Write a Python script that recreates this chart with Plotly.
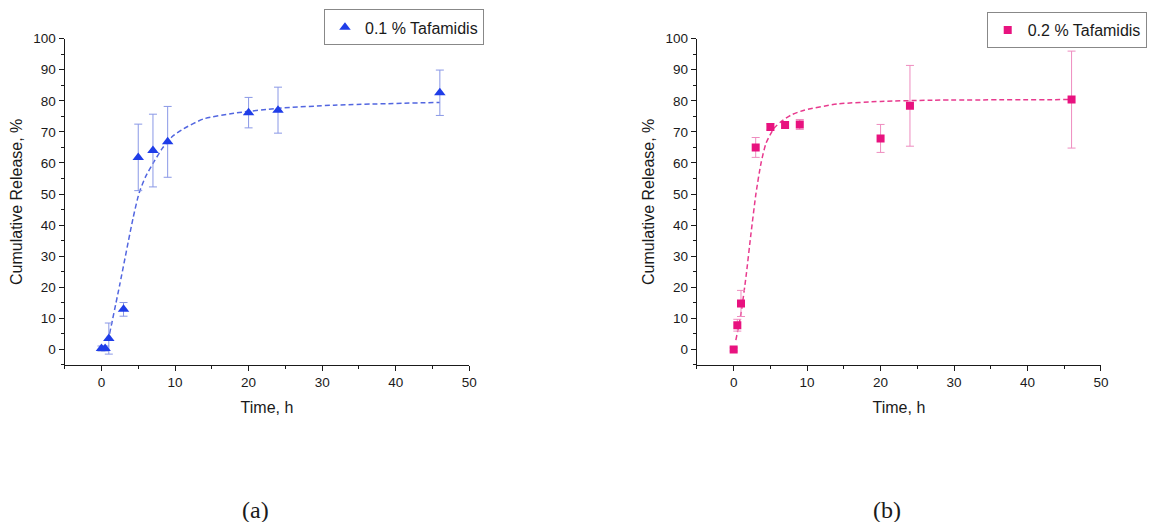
import plotly.graph_objects as go

# ---- data ----
time_a = [0, 0.5, 1, 3, 5, 7, 9, 20, 24, 46]
rel_a = [0.3, 0.3, 3.5, 12.9, 61.8, 64.0, 66.8, 76.2, 77.0, 82.6]
err_a = [0.8, 0.8, 5.0, 2.2, 10.7, 11.7, 11.4, 4.9, 7.4, 7.3]

fit_t_a = [1.1, 2.5, 4.29, 5.1, 6.0, 7.14, 8.27, 9.63, 11, 13.9, 18, 24, 31.6, 46]
fit_y_a = [5, 21, 42.2, 50.2, 55.6, 60.4, 64.7, 68.5, 70.8, 74.2, 76, 77.6, 78.6, 79.5]

time_b = [0, 0.5, 1, 3, 5, 7, 9, 20, 24, 46]
rel_b = [0.0, 7.8, 14.8, 65.0, 71.6, 72.2, 72.4, 67.9, 78.4, 80.4]
err_b = [0.5, 1.9, 4.2, 3.2, 1.0, 1.0, 1.6, 4.5, 13.0, 15.6]

fit_t_b = [0.3, 1.0, 1.68, 2.36, 3.04, 3.72, 4.4, 5.5, 6.45, 7.8, 9.6, 14.2, 20, 27, 46]
fit_y_b = [3, 11.6, 23.4, 37.3, 50.2, 59.9, 66.3, 71.2, 73.3, 75.4, 77, 79, 79.8, 80.2, 80.4]

name_a = "0.1 % Tafamidis"
name_b = "0.2 % Tafamidis"
x_title = "Time, h"
y_title = "Cumulative Release, %"
x_ticks = [0, 10, 20, 30, 40, 50]
y_ticks = [0, 10, 20, 30, 40, 50, 60, 70, 80, 90, 100]

BLUE = "#1f3de8"
BLUE_ERR = "#8a98e6"
BLUE_FIT = "#5266e0"
PINK = "#e8127f"
PINK_ERR = "#ee8cbf"
PINK_FIT = "#e83a8e"
FONT = "Liberation Sans, Arial, sans-serif"
SERIF = "Liberation Serif, DejaVu Serif, serif"
INK = "#1a1a1a"

fig = go.Figure()

fig.add_trace(go.Scatter(x=fit_t_a, y=fit_y_a, mode="lines", showlegend=False,
                         line=dict(color=BLUE_FIT, width=1.5, dash="5px,3px", shape="spline", smoothing=0.6),
                         xaxis="x", yaxis="y", hoverinfo="skip"))
fig.add_trace(go.Scatter(x=time_a, y=rel_a, mode="markers", name=name_a,
                         marker=dict(symbol="triangle-up", size=10, color=BLUE),
                         error_y=dict(type="data", array=err_a, color=BLUE_ERR, thickness=1, width=4),
                         xaxis="x", yaxis="y", legend="legend"))

fig.add_trace(go.Scatter(x=fit_t_b, y=fit_y_b, mode="lines", showlegend=False,
                         line=dict(color=PINK_FIT, width=1.5, dash="5px,3px", shape="spline", smoothing=0.6),
                         xaxis="x2", yaxis="y2", hoverinfo="skip"))
fig.add_trace(go.Scatter(x=time_b, y=rel_b, mode="markers", name=name_b,
                         marker=dict(symbol="square", size=8, color=PINK),
                         error_y=dict(type="data", array=err_b, color=PINK_ERR, thickness=1, width=4),
                         xaxis="x2", yaxis="y2", legend="legend2"))

xa = dict(range=[-5, 50], tickvals=x_ticks, ticks="outside", ticklen=5, tickwidth=1,
          tickcolor=INK, showline=True, linecolor=INK, linewidth=1.2, automargin=False,
          showgrid=False, zeroline=False, tickfont=dict(size=13.5, color=INK, family=FONT),
          minor=dict(dtick=5, tick0=0, ticks="outside", ticklen=3, tickcolor=INK, showgrid=False),
          title=dict(text=x_title, font=dict(size=16, color=INK, family=FONT), standoff=12))
ya = dict(range=[-5, 100], tickvals=y_ticks, ticks="outside", ticklen=5, tickwidth=1,
          tickcolor=INK, showline=True, linecolor=INK, linewidth=1.2, automargin=False,
          showgrid=False, zeroline=False, tickfont=dict(size=13.5, color=INK, family=FONT),
          minor=dict(dtick=5, tick0=0, ticks="outside", ticklen=3, tickcolor=INK, showgrid=False),
          title=dict(text=y_title, font=dict(size=16, color=INK, family=FONT), standoff=6))

legend_common = dict(bgcolor="white", bordercolor="#888", borderwidth=1,
                     font=dict(size=16, color=INK, family=FONT),
                     xanchor="left", yanchor="top", itemclick=False)

fig.update_layout(
    width=1155, height=522,
    margin=dict(l=0, r=0, t=0, b=0, autoexpand=False),
    paper_bgcolor="white", plot_bgcolor="white",
    font=dict(family=FONT, color=INK),
    xaxis=dict(domain=[0.056, 0.4063], anchor="y", **xa),
    yaxis=dict(domain=[0.3008, 0.9259], anchor="x", **ya),
    xaxis2=dict(domain=[0.6034, 0.9532], anchor="y2", **xa),
    yaxis2=dict(domain=[0.3008, 0.9259], anchor="x2", **ya),
    legend=dict(x=0.2805, y=0.982, **legend_common),
    legend2=dict(x=0.8543, y=0.977, **legend_common),
    annotations=[
        dict(text="(a)", x=0.2208, y=0.023, xref="paper", yref="paper", showarrow=False,
             xanchor="center", yanchor="middle", font=dict(size=24, color=INK, family=SERIF)),
        dict(text="(b)", x=0.7677, y=0.023, xref="paper", yref="paper", showarrow=False,
             xanchor="center", yanchor="middle", font=dict(size=24, color=INK, family=SERIF)),
    ],
)

fig.write_html("out.html", config={"displayModeBar": False},
               post_script="document.body.style.margin='0';document.body.style.overflow='hidden';")
